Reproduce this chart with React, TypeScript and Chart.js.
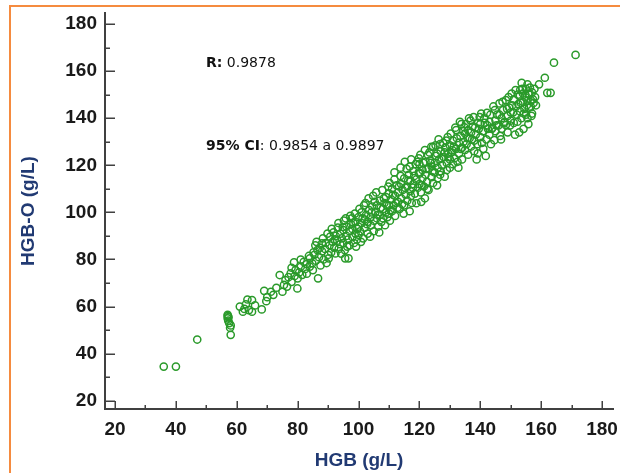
import { useEffect, useRef } from "react";
import { Chart, registerables } from "chart.js";

Chart.register(...registerables);

// Axis ticks
const X_TICKS = [20, 40, 60, 80, 100, 120, 140, 160, 180];
const Y_TICKS = [20, 40, 60, 80, 100, 120, 140, 160, 180];
const MINOR_TICKS = [30, 50, 70, 90, 110, 130, 150, 170];

const X_TITLE = "HGB (g/L)";
const Y_TITLE = "HGB-O (g/L)";
const R_LABEL = "R:";
const R_VALUE = " 0.9878";
const CI_LABEL = "95% CI";
const CI_VALUE = ": 0.9854 a 0.9897";

// [HGB, HGB-O] pairs, grouped by HGB range
const PTS_LOW: [number, number][] = [
  [36, 34.5], [40, 34.5], [47, 46], [58, 48], [57, 56], [57, 55], [57.2, 54], [57.5, 53],
  [58, 52], [57, 56.5], [57.8, 51], [57.3, 55.5], [61, 60], [62, 57.8], [63.5, 63],
  [65, 62.8], [64, 58.5], [65, 57.8], [68.2, 58.8], [69.7, 62.3], [69, 66.7], [71.2, 66.3],
  [63, 61], [66, 60.5], [62.5, 59], [70, 64], [72, 65], [73, 68],
];

const PTS_75_90: [number, number][] = [
  [74.1, 73.4], [75.5, 69.2], [75, 66.3], [76, 71.3], [78.8, 78.8], [79.9, 67.7], [77.7, 74.1],
  [79.3, 75.5], [81, 76.9], [82, 79], [83.7, 81.5], [86.7, 72], [84.8, 78.4], [85.8, 86],
  [88, 86.9], [76.5, 68.5], [77, 72.5], [78, 70.5], [79, 73], [80, 72], [80.5, 74.5],
  [81.5, 73.5], [82.5, 76], [83, 74], [84, 77], [84, 80.5], [85, 75.5], [85.5, 82], [86, 79.5],
  [87, 81], [87.5, 77.5], [88, 83.5], [88.5, 80], [89, 84.5], [89.5, 78.5], [90, 82],
  [86.5, 84], [83, 78], [81, 80], [78, 76.5],
];

const PTS_90_110: [number, number][] = [
  [90.5, 86], [90.7, 89.7], [91, 83], [91.5, 87.5], [92, 85], [92.4, 82.6], [92.5, 90], [93, 88],
  [93.5, 84.5], [94, 91], [94, 86.5], [94.5, 89], [95, 92.5], [95, 87], [95.6, 80.5], [95.5, 84],
  [96, 90], [96, 94], [96.5, 88.5], [96.7, 80.5], [97, 92], [97, 86], [97.5, 95], [98, 89.5],
  [98, 93], [98.5, 87], [99, 96], [99, 91], [99.5, 88.5], [100, 94], [100, 98], [100, 90.5],
  [100.5, 92], [101, 95.5], [101, 100], [101.5, 89], [102, 97], [102, 93.5], [102.5, 99],
  [103, 91], [103, 96], [103.5, 101], [103.8, 89.7], [104, 94.5], [104, 98], [104.5, 102.5],
  [105, 96.5], [105, 92], [105.5, 100], [106, 97.5], [106, 103], [106.5, 94], [107, 99],
  [107, 105], [107.5, 96], [108, 101.5], [108, 97.5], [108.5, 104], [108.7, 94.6], [109, 100],
  [109, 106.5], [109.5, 98], [110, 103], [110, 108], [110, 99.5], [110.5, 101], [97.8, 97.5],
  [99.2, 85.5], [101.8, 103], [104.8, 107], [106.8, 91.5], [93.2, 93.5], [91.8, 91.5], [95.2, 96.5],
];

const PTS_110_130: [number, number][] = [
  [110.8, 105.5], [111, 100.5], [111, 110], [111.5, 103], [112, 107], [112, 98.5], [112.5, 111.5],
  [113, 104.5], [113, 108.5], [113.5, 101.5], [114, 112], [114, 106], [114.5, 109.5], [115, 103],
  [115, 114.5], [115.5, 107.5], [116, 111], [116, 105], [116.5, 116], [117, 109], [117, 113.5],
  [117.5, 104], [118, 112], [118, 117.5], [118.5, 108], [119, 114], [119, 103.9], [119.5, 110.5],
  [120, 116.5], [120, 112], [120, 120.5], [120.5, 108.5], [121, 114.5], [121, 118], [121.5, 111],
  [122, 121.5], [122, 116], [122.5, 113], [123, 118.5], [123, 109.5], [123.5, 122], [123.9, 127.9],
  [124, 115], [124, 119.5], [124.5, 127.9], [124.5, 112.5], [125, 121], [125, 117], [125.5, 124],
  [126, 119], [126, 114.5], [126.5, 122.5], [127, 117.5], [127, 126], [127.5, 120], [128, 123.5],
  [128.3, 115.2], [128.5, 127.5], [129, 121], [129, 118], [129.5, 125], [130, 122.5], [130, 128.5],
  [130, 119], [111.8, 114], [113.8, 115.5], [116.8, 100.5], [118.8, 120.5], [121.8, 106],
  [114.8, 99.5], [119.8, 123], [122.8, 124.5], [126.8, 129], [117.2, 107], [120.8, 111.5],
  [115.8, 118.5], [125.8, 111.5], [112.8, 102], [128.8, 130.5], [110.2, 112.5],
];

const PTS_130_150: [number, number][] = [
  [130.5, 125.5], [131, 120.5], [131, 130.5], [131.5, 123], [132, 127], [132.1, 135], [132.5, 121.5],
  [133, 129.5], [133, 125], [133.5, 132.5], [134, 127.5], [134, 122.5], [134.5, 130], [134.8, 136.1],
  [135, 133.5], [135, 126.5], [135.5, 129], [136, 135], [136, 124.5], [136.5, 131.5], [137, 128],
  [137, 134], [137.5, 136.5], [138, 130.5], [138, 126], [138.5, 133], [139, 129], [139.2, 125.1],
  [139.5, 135.5], [140, 132], [140, 137.5], [140.5, 129.5], [141, 134.5], [141, 127], [141.5, 138],
  [142, 131], [142.2, 142.3], [142.5, 135.5], [143, 133], [143, 138.5], [143.5, 129], [144, 136],
  [144.6, 130.7], [145, 139], [145, 134.5], [145.5, 141.5], [146, 137], [146.3, 146.3], [146.5, 132.5],
  [147, 140], [147, 135.5], [147.5, 143.5], [148, 138.5], [148.4, 147.7], [148.4, 137.1], [149, 141],
  [149, 134], [149.5, 144.5], [150, 139], [150, 142.5], [132.8, 119], [136.8, 139], [138.8, 122.5],
  [144.8, 143.5], [133.8, 137.5], [146.8, 131], [141.8, 124], [139.8, 140.5],
];

const PTS_HIGH: [number, number][] = [
  [150.5, 145.5], [151, 138], [151, 148], [151.6, 152], [152, 141.5], [152.2, 138.5], [152.5, 146],
  [153, 149.5], [153.1, 152], [153, 143], [153.5, 140], [154, 147], [154, 150.5], [154.5, 144],
  [155, 152.5], [155, 141.5], [155.5, 154.4], [155.5, 140], [155.5, 147.5], [156, 150], [156, 144.5],
  [156.6, 147.7], [156.6, 144.9], [157, 151], [157, 142], [157.5, 146.5], [158, 149], [155.8, 137.5],
  [154.2, 135.5], [152.8, 134], [159.3, 154.4], [161.2, 157.2], [162, 150.8], [163.1, 150.8],
  [164.2, 163.6], [171.3, 166.9], [153.6, 155], [151.4, 133],
];

// second pass over the dense band
const PTS_BAND: [number, number][] = [
  [85.2, 83], [86.2, 87.5], [87.3, 85], [88.3, 89], [89.2, 87], [89.8, 91], [90.2, 80.5], [91.2, 93],
  [92.2, 88.5], [93.4, 95.5], [94.3, 82.5], [94.8, 93.8], [95.8, 97.5], [96.3, 85.5], [97.3, 98.5],
  [98.3, 95.5], [98.8, 99.5], [99.6, 93], [100.3, 101.5], [100.8, 87.5],
  [101.3, 97.5], [102.3, 104], [102.8, 95], [103.3, 106], [104.3, 100], [105.3, 104.5], [105.8, 108.5],
  [106.3, 99], [107.3, 102], [107.8, 109.5], [108.3, 106], [109.3, 103], [109.8, 111], [110.3, 96.5],
  [111.3, 107.5], [111.8, 117], [112.3, 104], [113.3, 111], [113.8, 119], [114.3, 103.5], [115.3, 110.5],
  [115.2, 121.5],
  [116.3, 113.5], [116.8, 119.5], [117.3, 122.5], [117.8, 110.5], [118.3, 115.5], [119.3, 121.5],
  [119.8, 117], [120.3, 124.5], [120.6, 104.5], [121.3, 121], [121.8, 126.5], [122.3, 118.5],
  [122.6, 110], [123.3, 125.5], [123.8, 121], [124.3, 117.5], [125.3, 128.5], [125.8, 125],
  [126.3, 131], [126.8, 116], [127.3, 123], [127.8, 129.5], [128.3, 125.5], [129.3, 132], [129.6, 123.5],
  [130.3, 133.5], [130.8, 126.5], [131.3, 128], [131.8, 136], [132.3, 131.5], [133.3, 138.5],
  [133.6, 127], [134.3, 134.5], [135.3, 137.5], [135.8, 131.5], [136.3, 140], [137.3, 131],
  [137.8, 140.5], [138.3, 136], [139.3, 138], [140.3, 142], [140.8, 134.5], [141.3, 140], [142.3, 137],
  [143.3, 141.5], [143.8, 135.5], [144.3, 145], [145.3, 137], [146.3, 141.5], [147.3, 147],
  [147.8, 138], [148.8, 144], [149.3, 149], [149.8, 137],
  [150.3, 150.5], [150.8, 142.5], [151.8, 145], [152.3, 150], [153.3, 146.5], [153.8, 152.5],
  [154.3, 142], [154.8, 149], [155.3, 145.5], [155.8, 150.5], [156.3, 153], [156.8, 141], [157.3, 148],
  [157.8, 152.5], [158.3, 145.5],
];

const ALL_POINTS = [
  ...PTS_LOW, ...PTS_75_90, ...PTS_90_110, ...PTS_110_130, ...PTS_130_150, ...PTS_HIGH, ...PTS_BAND,
];

const AXIS_COLOR = "#404040";
const TITLE_COLOR = "#213a73";
const POINT_COLOR = "#2a9a2a";
const FRAME_COLOR = "#f58b3f";

const decorPlugin = {
  id: "decor",
  beforeDraw(chart: any) {
    const ctx = chart.ctx;
    ctx.save();
    ctx.fillStyle = "#ffffff";
    ctx.fillRect(0, 0, chart.width, chart.height);
    ctx.strokeStyle = FRAME_COLOR;
    ctx.lineWidth = 2;
    ctx.beginPath();
    ctx.moveTo(10, chart.height);
    ctx.lineTo(10, 6);
    ctx.lineTo(chart.width, 6);
    ctx.stroke();
    ctx.restore();
  },
  afterDraw(chart: any) {
    const ctx = chart.ctx;
    const { left, bottom } = chart.chartArea;
    const xs = chart.scales.x;
    const ys = chart.scales.y;
    ctx.save();
    ctx.strokeStyle = AXIS_COLOR;
    ctx.lineWidth = 1.5;
    ctx.beginPath();
    Y_TICKS.forEach((v) => {
      const p = Math.round(ys.getPixelForValue(v)) + 0.25;
      ctx.moveTo(left, p);
      ctx.lineTo(left + 10, p);
    });
    MINOR_TICKS.forEach((v) => {
      const p = Math.round(ys.getPixelForValue(v)) + 0.25;
      ctx.moveTo(left, p);
      ctx.lineTo(left + 5, p);
    });
    X_TICKS.forEach((v) => {
      const p = Math.round(xs.getPixelForValue(v)) + 0.25;
      ctx.moveTo(p, bottom);
      ctx.lineTo(p, bottom - 8);
    });
    MINOR_TICKS.forEach((v) => {
      const p = Math.round(xs.getPixelForValue(v)) + 0.25;
      ctx.moveTo(p, bottom);
      ctx.lineTo(p, bottom - 4);
    });
    ctx.stroke();

    // statistics text
    ctx.fillStyle = "#111111";
    ctx.textBaseline = "middle";
    ctx.textAlign = "left";
    const bold = 'bold 14px "DejaVu Sans"';
    const normal = '14px "DejaVu Sans"';
    ctx.font = bold;
    ctx.fillText(R_LABEL, 206, 63);
    let w = ctx.measureText(R_LABEL).width;
    ctx.font = normal;
    ctx.fillText(R_VALUE, 206 + w, 63);
    ctx.font = bold;
    ctx.fillText(CI_LABEL, 206, 146);
    w = ctx.measureText(CI_LABEL).width;
    ctx.font = normal;
    ctx.fillText(CI_VALUE, 206 + w, 146);
    ctx.restore();
  },
};

export default function App() {
  const ref = useRef<HTMLCanvasElement | null>(null);

  useEffect(() => {
    if (!ref.current) return;
    const tickFont = { family: '"Liberation Sans", Arial, sans-serif', size: 19, weight: "bold" as const };
    const titleFont = { family: '"Liberation Sans", Arial, sans-serif', size: 19, weight: "bold" as const };
    const chart = new Chart(ref.current, {
      type: "scatter",
      data: {
        datasets: [
          {
            label: "HGB-O vs HGB",
            data: ALL_POINTS.map(([x, y]) => ({ x, y })),
            pointRadius: 3.6,
            pointHoverRadius: 3.6,
            borderWidth: 1.5,
            borderColor: POINT_COLOR,
            backgroundColor: "rgba(0,0,0,0)",
            pointStyle: "circle",
          },
        ],
      },
      options: {
        responsive: false,
        animation: false,
        events: [],
        layout: { padding: { left: 0, top: 13, right: 7, bottom: 0 } },
        plugins: {
          legend: { display: false },
          tooltip: { enabled: false },
        },
        scales: {
          x: {
            type: "linear",
            min: 16.7,
            max: 183.6,
            afterBuildTicks: (s: any) => {
              s.ticks = X_TICKS.map((v) => ({ value: v }));
            },
            afterFit: (s: any) => {
              s.height = 64;
              s.paddingLeft = 0;
              s.paddingRight = 0;
            },
            ticks: { font: tickFont, color: "#1a1a1a", padding: 9, maxRotation: 0, autoSkip: false },
            grid: { display: false, drawTicks: false },
            border: { display: true, color: AXIS_COLOR, width: 2 },
            title: { display: true, text: X_TITLE, color: TITLE_COLOR, font: titleFont, padding: { top: 0, bottom: 1 } },
          },
          y: {
            type: "linear",
            min: 16.5,
            max: 184.7,
            afterBuildTicks: (s: any) => {
              s.ticks = Y_TICKS.map((v) => ({ value: v }));
            },
            afterFit: (s: any) => {
              s.width = 105;
              s.paddingTop = 0;
              s.paddingBottom = 0;
            },
            ticks: { font: tickFont, color: "#1a1a1a", padding: 8, autoSkip: false },
            grid: { display: false, drawTicks: false },
            border: { display: true, color: AXIS_COLOR, width: 2 },
            title: { display: true, text: Y_TITLE, color: TITLE_COLOR, font: titleFont, padding: { top: 17, bottom: 0 } },
          },
        },
      },
      plugins: [decorPlugin],
    });
    return () => chart.destroy();
  }, []);

  return (
    <div style={{ position: "fixed", left: 0, top: 0, width: 620, height: 473, background: "#fff" }}>
      <canvas ref={ref} width={620} height={473} style={{ display: "block" }} />
    </div>
  );
}
